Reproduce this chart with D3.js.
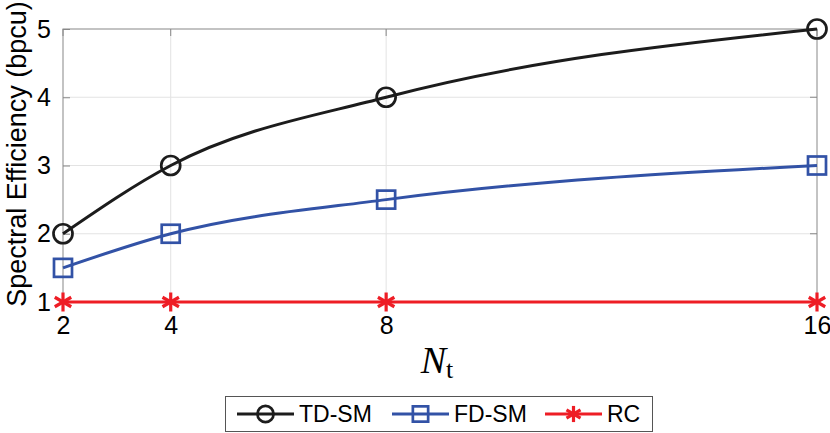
<!DOCTYPE html>
<html>
<head>
<meta charset="utf-8">
<script src="https://cdn.jsdelivr.net/npm/d3@7"></script>
<style>
  body { margin: 0; background: #fff; }
</style>
</head>
<body>
<script>
// Data
var nt = [2, 4, 8, 16];
var tdSM = [2, 3, 4, 5];
var fdSM = [1.5, 2, 2.5, 3];
var rc = [1, 1, 1, 1];
var xTicks = [2, 4, 8, 16];
var yTicks = [1, 2, 3, 4, 5];
var seriesNames = ["TD-SM", "FD-SM", "RC"];

var W = 830, H = 433;
var margin = {left: 63, right: 13, top: 29, bottom: 131};
var width = W - margin.left - margin.right,
    height = H - margin.top - margin.bottom;
var sans = "'Liberation Sans', Arial, Helvetica, sans-serif";
var serif = "'Liberation Serif', 'Times New Roman', serif";

var svg = d3.select("body").append("svg")
    .attr("width", W).attr("height", H)
    .attr("font-family", sans);

var g = svg.append("g")
    .attr("transform", `translate(${margin.left}, ${margin.top})`);

var x = d3.scaleLinear().domain([2, 16]).range([0, width]);
var y = d3.scaleLinear().domain([1, 5]).range([height, 0]);

// grid
g.append("g").selectAll("line").data(xTicks.slice(1, -1)).enter().append("line")
    .attr("x1", d => x(d)).attr("x2", d => x(d))
    .attr("y1", 0).attr("y2", height)
    .attr("stroke", "#e3e3e3").attr("stroke-width", 1);
g.append("g").selectAll("line").data(yTicks.slice(1, -1)).enter().append("line")
    .attr("y1", d => y(d)).attr("y2", d => y(d))
    .attr("x1", 0).attr("x2", width)
    .attr("stroke", "#e3e3e3").attr("stroke-width", 1);

// box
g.append("rect").attr("width", width).attr("height", height)
    .attr("fill", "none").attr("stroke", "#888").attr("stroke-width", 1);

// axes, ticks inside
var xAxis = g.append("g").attr("transform", `translate(0, ${height})`)
    .call(d3.axisBottom(x).tickValues(xTicks).tickSize(-7).tickPadding(14).tickFormat(d3.format("d")));
var yAxis = g.append("g")
    .call(d3.axisLeft(y).tickValues(yTicks).tickSize(-7).tickPadding(12).tickFormat(d3.format("d")));
[xAxis, yAxis].forEach(function(a) {
    a.attr("font-family", sans).attr("font-size", 25);
    a.select(".domain").remove();
    a.selectAll("line").attr("stroke", "#888");
    a.selectAll("text").attr("fill", "#000");
});
// top/right ticks
g.append("g").selectAll("line").data(xTicks).enter().append("line")
    .attr("x1", d => x(d)).attr("x2", d => x(d)).attr("y1", 0).attr("y2", 7)
    .attr("stroke", "#888");
g.append("g").selectAll("line").data(yTicks).enter().append("line")
    .attr("y1", d => y(d)).attr("y2", d => y(d)).attr("x1", width).attr("x2", width - 7)
    .attr("stroke", "#888");

var colors = ["#1c1c1c", "#3252a6", "#ee1d25"];
var data = [tdSM, fdSM, rc];

var line = d3.line()
    .x((d, i) => x(nt[i]))
    .y(d => y(d))
    .curve(d3.curveMonotoneX);

function drawMarker(sel, k, cx, cy, s) {
    var c = colors[k];
    if (k === 0) {
        sel.append("circle").attr("cx", cx).attr("cy", cy).attr("r", 9.5 * s)
            .attr("fill", "none").attr("stroke", c).attr("stroke-width", 2.7);
    } else if (k === 1) {
        sel.append("rect").attr("x", cx - 9 * s).attr("y", cy - 9 * s)
            .attr("width", 18 * s).attr("height", 18 * s)
            .attr("fill", "none").attr("stroke", c).attr("stroke-width", 2.7);
    } else {
        var r = 9.5 * s;
        [0, 60, 120].forEach(function(a) {
            var t = (a + 90) * Math.PI / 180;
            sel.append("line")
                .attr("x1", cx + r * Math.cos(t)).attr("y1", cy + r * Math.sin(t))
                .attr("x2", cx - r * Math.cos(t)).attr("y2", cy - r * Math.sin(t))
                .attr("stroke", c).attr("stroke-width", 3.2);
        });
    }
}

data.forEach(function(vals, k) {
    g.append("path").datum(vals)
        .attr("d", line)
        .attr("fill", "none")
        .attr("stroke", colors[k])
        .attr("stroke-width", 3);
    var mg = g.append("g");
    vals.forEach(function(v, i) {
        drawMarker(mg, k, x(nt[i]), y(v), 1);
    });
});

// y label
svg.append("text")
    .attr("transform", `translate(26, 154) rotate(-90)`)
    .attr("text-anchor", "middle")
    .attr("font-size", 27)
    .attr("fill", "#000")
    .text("Spectral Efficiency (bpcu)");

// x label N_t
var xl = svg.append("text")
    .attr("x", 437).attr("y", 373)
    .attr("text-anchor", "middle")
    .attr("font-family", serif)
    .attr("font-size", 38)
    .attr("fill", "#000");
xl.append("tspan").attr("font-style", "italic").text("N");
xl.append("tspan").attr("font-size", 26).attr("dy", 5).text("t");

// legend
var lg = svg.append("g");
lg.append("rect").attr("x", 225.5).attr("y", 396.5).attr("width", 427).attr("height", 35)
    .attr("fill", "#fff").attr("stroke", "#555").attr("stroke-width", 1);
var legendX = [237, 392, 545];
seriesNames.forEach(function(name, k) {
    var lx = legendX[k], ly = 414;
    lg.append("line").attr("x1", lx).attr("x2", lx + 57).attr("y1", ly).attr("y2", ly)
        .attr("stroke", colors[k]).attr("stroke-width", 3);
    drawMarker(lg, k, lx + 28.5, ly, 0.85);
    lg.append("text").attr("x", lx + 62).attr("y", ly + 8)
        .attr("font-size", 23).attr("fill", "#000").text(name);
});
</script>
</body>
</html>
